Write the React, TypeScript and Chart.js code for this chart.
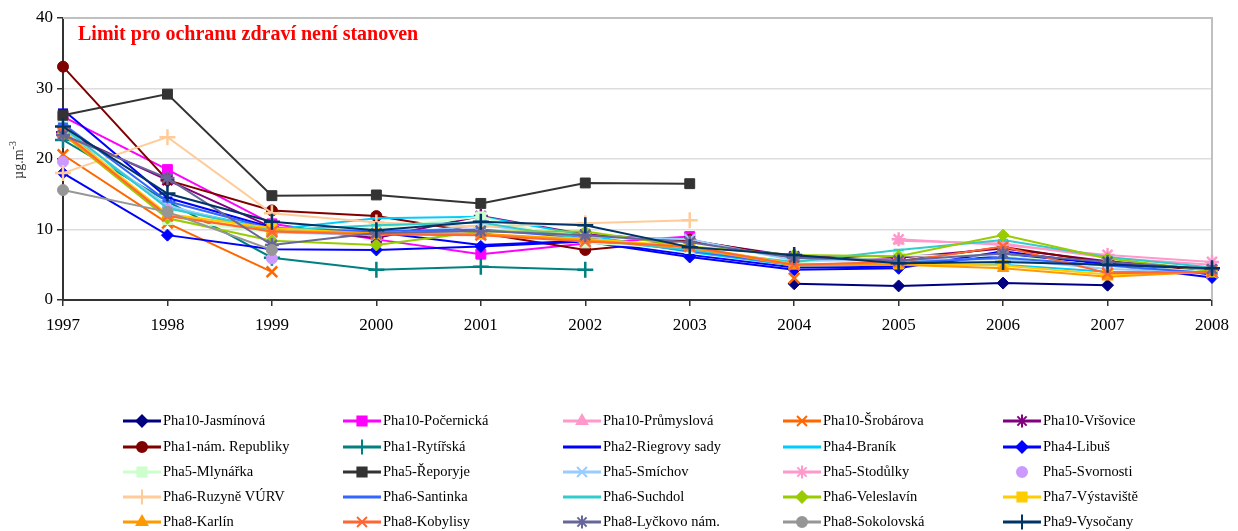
import React, { useEffect, useRef } from 'react';
import { Chart, registerables } from 'chart.js';
import { drawPoint } from 'chart.js/helpers';

Chart.register(...registerables);

const years = ['1997', '1998', '1999', '2000', '2001', '2002', '2003', '2004', '2005', '2006', '2007', '2008'];
const yTicks = [0, 10, 20, 30, 40];
const chartTitle = 'Limit pro ochranu zdraví není stanoven';
const yTitle = 'µg.m';
const yTitleSup = '-3';

const names = [
  'Pha10-Jasmínová', 'Pha10-Počernická', 'Pha10-Průmyslová', 'Pha10-Šrobárova', 'Pha10-Vršovice',
  'Pha1-nám. Republiky', 'Pha1-Rytířská', 'Pha2-Riegrovy sady', 'Pha4-Braník', 'Pha4-Libuš',
  'Pha5-Mlynářka', 'Pha5-Řeporyje', 'Pha5-Smíchov', 'Pha5-Stodůlky', 'Pha5-Svornosti',
  'Pha6-Ruzyně VÚRV', 'Pha6-Santinka', 'Pha6-Suchdol', 'Pha6-Veleslavín', 'Pha7-Výstaviště',
  'Pha8-Karlín', 'Pha8-Kobylisy', 'Pha8-Lyčkovo nám.', 'Pha8-Sokolovská', 'Pha9-Vysočany',
];

const colors = [
  '#000080', '#FF00FF', '#FF99CC', '#FF6600', '#800080',
  '#800000', '#008080', '#0000FF', '#00CCFF', '#0000FF',
  '#CCFFCC', '#333333', '#99CCFF', '#FF99CC', '#CC99FF',
  '#FFCC99', '#3366FF', '#33CCCC', '#99CC00', '#FFCC00',
  '#FF9900', '#FF6633', '#666699', '#969696', '#003366',
];

const markers = [
  'rectRot', 'rect', 'triangle', 'crossRot', 'star',
  'circle', 'cross', 'line', 'line', 'rectRot',
  'rect', 'rect', 'crossRot', 'star', 'circle',
  'cross', 'line', 'line', 'rectRot', 'rect',
  'triangle', 'crossRot', 'star', 'circle', 'cross',
];

const N = null;
const jasminova = [N, N, N, N, N, N, N, 2.3, 2.0, 2.4, 2.1, N];
const pocernicka = [26.0, 18.5, 10.8, 8.6, 6.5, 8.0, 9.0, N, N, N, N, N];
const prumyslova = [N, N, N, N, N, N, N, N, 8.4, 8.0, 6.0, 5.0];
const srobarova = [20.6, 10.9, 4.0, N, N, N, N, 3.1, N, N, N, N];
const vrsovice = [23.8, 17.0, 10.3, 8.8, 11.9, 9.3, 8.4, 6.2, 6.0, 7.3, 5.5, 4.3];
const namRepubliky = [33.1, 17.0, 12.7, 11.9, 9.5, 7.1, 8.5, 6.0, 5.5, 7.5, 5.3, 4.2];
const rytirska = [22.7, 14.0, 6.0, 4.3, 4.7, 4.3, N, N, N, N, N, N];
const riegrovy = [27.0, 14.5, 10.3, 9.6, 7.8, 8.4, 6.4, 4.6, 4.7, 6.3, 5.3, 3.6];
const branik = [24.0, 13.2, 10.0, 11.6, 11.8, 9.2, 6.8, 4.9, 5.0, 5.0, 4.0, 3.9];
const libus = [18.0, 9.2, 7.2, 7.1, 7.6, 8.3, 6.1, 4.3, 4.5, 6.9, 5.0, 3.2];
const mlynarka = [24.9, 11.4, 9.6, 10.2, 11.8, 8.1, 7.3, 5.3, 6.3, 6.3, 4.8, 4.0];
const reporyje = [26.2, 29.2, 14.8, 14.9, 13.7, 16.6, 16.5, N, N, N, N, N];
const smichov = [24.2, 13.4, 9.6, 9.2, 10.6, 9.0, 8.6, 5.6, 5.6, 5.8, 4.4, 3.9];
const stodulky = [N, N, N, N, N, N, N, N, 8.6, 7.8, 6.4, 5.4];
const svornosti = [19.6, 12.8, 5.9, N, N, N, N, N, N, N, N, N];
const ruzyne = [18.0, 23.1, 12.3, 11.0, 10.4, 10.9, 11.3, N, N, N, N, N];
const santinka = [25.0, 14.0, 10.1, 9.8, 10.0, 8.8, 7.0, 5.0, 5.3, 6.0, 4.9, 3.8];
const suchdol = [24.5, 13.0, 9.9, 10.6, 11.0, 8.6, 7.1, 5.4, 7.1, 8.5, 6.1, 4.6];
const veleslavin = [23.5, 11.6, 8.4, 7.8, 9.7, 9.7, 7.6, 6.4, 6.2, 9.2, 5.9, 4.1];
const vystaviste = [24.0, 12.2, 10.2, 9.4, 9.3, 8.7, 7.6, 5.1, 5.1, 4.9, 3.6, 4.0];
const karlin = [23.5, 12.0, 9.8, 9.5, 9.4, 8.5, 7.4, 4.9, 5.0, 4.5, 3.3, 4.0];
const kobylisy = [23.8, 11.9, 9.7, 9.3, 9.2, 8.3, 7.6, 5.0, 5.4, 7.6, 3.8, 4.0];
const lyckovo = [23.4, 17.3, 7.8, 9.5, 9.8, 9.2, 8.2, 6.0, 5.6, 6.6, 5.4, 4.4];
const sokolovska = [15.6, 12.5, 7.1, N, N, N, N, N, N, N, N, N];
const vysocany = [24.6, 15.1, 11.1, 9.9, 11.1, 10.6, 7.5, 6.4, 5.2, 5.4, 5.0, 4.5];

const seriesData = [
  jasminova, pocernicka, prumyslova, srobarova, vrsovice,
  namRepubliky, rytirska, riegrovy, branik, libus,
  mlynarka, reporyje, smichov, stodulky, svornosti,
  ruzyne, santinka, suchdol, veleslavin, vystaviste,
  karlin, kobylisy, lyckovo, sokolovska, vysocany,
];

const noLine = ['Pha5-Svornosti'];

const radiusFor = (style: string) => {
  switch (style) {
    case 'rectRot': return 6;
    case 'rect': return 7;
    case 'triangle': return 6.5;
    case 'crossRot': return 7.5;
    case 'star': return 7;
    case 'circle': return 5.5;
    case 'cross': return 8;
    case 'line': return 5;
    default: return 5;
  }
};

const SERIF = '"Liberation Serif", "Times New Roman", serif';

const legendCols = [123, 343, 563, 783, 1003];
const legendRows = [421, 447, 472, 497, 522];

const decorPlugin = {
  id: 'decor',
  beforeDatasetsDraw(chart: any) {
    const { ctx, chartArea } = chart;
    const { left, right, top, bottom } = chartArea;
    ctx.save();
    ctx.strokeStyle = '#c0c0c0';
    ctx.lineWidth = 2;
    ctx.beginPath();
    ctx.moveTo(left, top);
    ctx.lineTo(right, top);
    ctx.lineTo(right, bottom);
    ctx.stroke();
    ctx.restore();
  },
  afterDraw(chart: any) {
    const { ctx } = chart;
    ctx.save();
    ctx.fillStyle = '#FF0000';
    ctx.font = `bold 20px ${SERIF}`;
    ctx.textBaseline = 'middle';
    ctx.textAlign = 'left';
    ctx.fillText(chartTitle, 78, 35);

    ctx.save();
    ctx.translate(23, 160);
    ctx.rotate(-Math.PI / 2);
    ctx.fillStyle = '#333333';
    ctx.font = `14px ${SERIF}`;
    const w1 = ctx.measureText(yTitle).width;
    ctx.font = `10px ${SERIF}`;
    const w2 = ctx.measureText(yTitleSup).width;
    const start = -(w1 + w2) / 2;
    ctx.font = `14px ${SERIF}`;
    ctx.textAlign = 'left';
    ctx.textBaseline = 'alphabetic';
    ctx.fillText(yTitle, start, 0);
    ctx.font = `10px ${SERIF}`;
    ctx.fillText(yTitleSup, start + w1, -7);
    ctx.restore();

    ctx.font = `14.5px ${SERIF}`;
    ctx.textBaseline = 'middle';
    names.forEach((name, i) => {
      const x = legendCols[i % 5];
      const y = legendRows[Math.floor(i / 5)];
      const c = colors[i];
      if (!noLine.includes(name)) {
        ctx.strokeStyle = c;
        ctx.lineWidth = 3;
        ctx.beginPath();
        ctx.moveTo(x, y);
        ctx.lineTo(x + 38, y);
        ctx.stroke();
      }
      ctx.fillStyle = c;
      ctx.strokeStyle = c;
      ctx.lineWidth = 2;
      drawPoint(ctx, { pointStyle: markers[i], rotation: 0, radius: radiusFor(markers[i]) - 0.5, borderWidth: 2 }, x + 19, y);
      ctx.fillStyle = '#000000';
      ctx.fillText(name, x + 40, y);
    });
    ctx.restore();
  },
};

export default function App() {
  const ref = useRef<HTMLCanvasElement | null>(null);
  useEffect(() => {
    if (!ref.current) return;
    const datasets = names.map((name, i) => ({
      label: name,
      data: seriesData[i],
      borderColor: colors[i],
      backgroundColor: colors[i],
      borderWidth: 2,
      pointStyle: markers[i],
      pointRadius: radiusFor(markers[i]),
      pointBorderWidth: markers[i] === 'rect' || markers[i] === 'circle' || markers[i] === 'rectRot' || markers[i] === 'triangle' ? 1 : 2.5,
      pointBackgroundColor: colors[i],
      pointBorderColor: colors[i],
      showLine: !noLine.includes(name),
      spanGaps: false,
      tension: 0,
      order: names.length - i,
      clip: false as any,
    }));
    const chart = new Chart(ref.current, {
      type: 'line',
      data: { labels: years, datasets },
      options: {
        animation: false,
        responsive: false,
        maintainAspectRatio: false,
        layout: { padding: { left: 0, top: 18, right: 20, bottom: 0 } },
        plugins: {
          legend: { display: false },
          tooltip: { enabled: false },
          title: { display: false },
        },
        scales: {
          x: {
            type: 'category',
            offset: false,
            grid: { display: true, drawOnChartArea: false, drawTicks: true, tickLength: 6, tickColor: '#333333', lineWidth: 1.5 },
            border: { display: true, color: '#333333', width: 2 },
            ticks: { color: '#000000', font: { family: SERIF, size: 17 }, padding: 9, maxRotation: 0, autoSkip: false },
            afterFit: (scale: any) => { scale.height = 231; },
          },
          y: {
            min: 0,
            max: 40,
            afterBuildTicks: (scale: any) => { scale.ticks = yTicks.map((v) => ({ value: v })); },
            grid: { color: '#dddddd', lineWidth: 1.5, drawTicks: true, tickLength: 6, tickColor: '#333333' },
            border: { display: true, color: '#333333', width: 2 },
            ticks: { color: '#000000', font: { family: SERIF, size: 17 }, padding: 4 },
            afterFit: (scale: any) => { scale.width = 63; },
          },
        },
      },
      plugins: [decorPlugin],
    });
    return () => chart.destroy();
  }, []);
  return (
    <div style={{ position: 'absolute', left: 0, top: 0, width: 1238, height: 531, background: '#ffffff' }}>
      <canvas ref={ref} width={1238} height={531} style={{ display: 'block' }} />
    </div>
  );
}
